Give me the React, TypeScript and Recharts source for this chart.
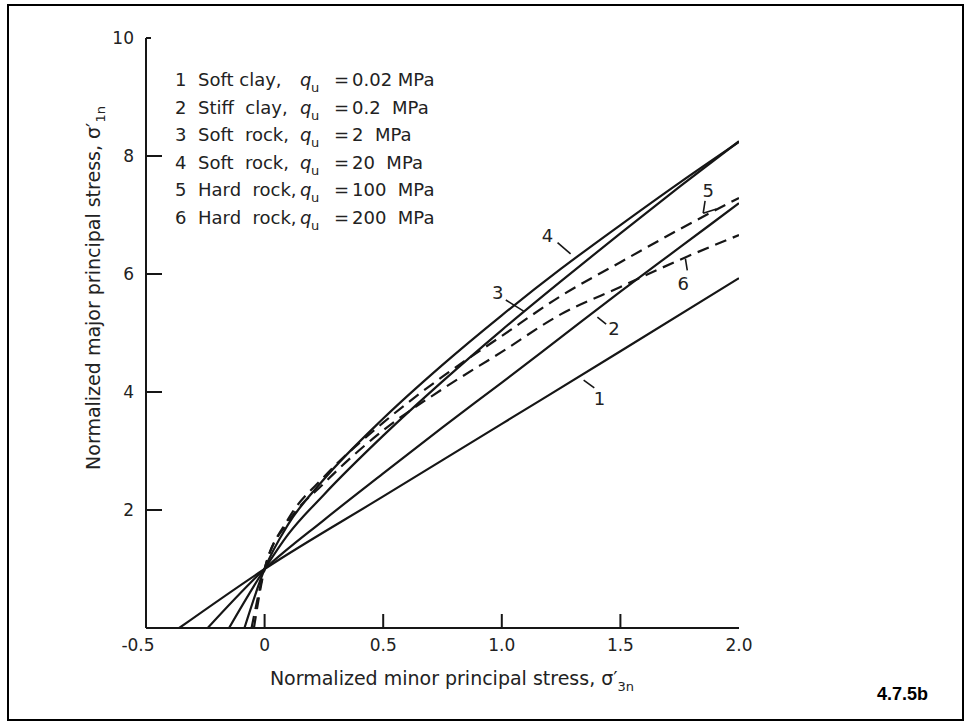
import React from 'react';
import { LineChart, Line, XAxis, YAxis, ReferenceLine, ReferenceDot } from 'recharts';

// ---------- data ----------
const xTicks = [-0.5, 0, 0.5, 1.0, 1.5, 2.0];
const xTickLabels = ['-0.5', '0', '0.5', '1.0', '1.5', '2.0'];
const yTicks = [0, 2, 4, 6, 8, 10];
const yTickLabels = ['', '2', '4', '6', '8', '10'];

const curve1X = [-0.36, 0, 0.5, 1.0, 1.5, 2.0];
const curve1Y = [0, 1, 2.23, 3.46, 4.69, 5.93];
const curve2X = [-0.24, 0, 0.25, 0.5, 0.75, 1.0, 1.25, 1.5, 1.75, 2.0];
const curve2Y = [0, 1, 1.83, 2.62, 3.4, 4.16, 4.93, 5.7, 6.45, 7.2];
const curve3X = [-0.15, 0, 0.1, 0.25, 0.5, 0.75, 1.0, 1.25, 1.5, 1.75, 2.0];
const curve3Y = [0, 1, 1.59, 2.26, 3.26, 4.18, 5.05, 5.88, 6.69, 7.48, 8.25];
const curve4X = [-0.085, 0, 0.1, 0.25, 0.5, 0.75, 1.0, 1.25, 1.5, 1.75, 2.0];
const curve4Y = [0, 1, 1.76, 2.52, 3.55, 4.46, 5.3, 6.09, 6.83, 7.55, 8.24];
const curve5X = [-0.055, 0, 0.1, 0.25, 0.5, 0.75, 1.0, 1.25, 1.5, 1.75, 2.0];
const curve5Y = [0, 1, 1.85, 2.56, 3.48, 4.26, 4.95, 5.63, 6.2, 6.76, 7.29];
const curve6X = [-0.045, 0, 0.1, 0.25, 0.5, 0.75, 1.0, 1.25, 1.5, 1.75, 2.0];
const curve6Y = [0, 1, 1.8, 2.45, 3.35, 4.05, 4.68, 5.32, 5.78, 6.24, 6.66];

const legendNums = ['1', '2', '3', '4', '5', '6'];
const legendNames = ['Soft clay,', 'Stiff  clay,', 'Soft  rock,', 'Soft  rock,', 'Hard  rock,', 'Hard  rock,'];
const legendValues = ['0.02 MPa', '0.2  MPa', '2  MPa', '20  MPa', '100  MPa', '200  MPa'];

// curve-number annotations (data coordinates)
const curveLabels = [
  { text: '1', x: 1.412, y: 3.9 },
  { text: '2', x: 1.473, y: 5.08 },
  { text: '3', x: 0.983, y: 5.69 },
  { text: '4', x: 1.193, y: 6.66 },
  { text: '5', x: 1.87, y: 7.42 },
  { text: '6', x: 1.765, y: 5.84 },
];
const pointerSegments = [
  [[1.345, 4.2], [1.39, 4.07]],
  [[1.403, 5.27], [1.44, 5.15]],
  [[1.017, 5.56], [1.092, 5.37]],
  [[1.235, 6.53], [1.29, 6.34]],
  [[1.857, 7.24], [1.849, 7.03]],
  [[1.849, 7.03], [1.905, 7.1]],
  [[1.782, 6.06], [1.774, 6.26]],
];

const pts = (xs: number[], ys: number[]) => xs.map((x, i) => ({ x, y: ys[i] }));
const series = [
  { name: 'c1', data: pts(curve1X, curve1Y), dash: undefined },
  { name: 'c2', data: pts(curve2X, curve2Y), dash: undefined },
  { name: 'c3', data: pts(curve3X, curve3Y), dash: undefined },
  { name: 'c4', data: pts(curve4X, curve4Y), dash: undefined },
  { name: 'c5', data: pts(curve5X, curve5Y), dash: '12 7' },
  { name: 'c6', data: pts(curve6X, curve6Y), dash: '12 7' },
];

const INK = '#161616';
const FONT = '"DejaVu Sans", sans-serif';

const YTick = (props: any) => {
  const { x, y, payload } = props;
  const i = yTicks.indexOf(payload.value);
  const len = payload.value === 10 ? 5 : payload.value === 0 ? 0 : 16;
  return (
    <g>
      {len > 0 && <line x1={x} x2={x + len} y1={y} y2={y} stroke={INK} strokeWidth={2} />}
      <text x={x - 12} y={y + 6} textAnchor="end" fontFamily={FONT} fontSize={17} fill="#222">
        {yTickLabels[i]}
      </text>
    </g>
  );
};

const XTick = (props: any) => {
  const { x, y, payload } = props;
  const i = xTicks.indexOf(payload.value);
  const hasTick = payload.value > -0.5 && payload.value < 2.0;
  const dx = payload.value === -0.5 ? -8 : 0;
  return (
    <g>
      {hasTick && <line x1={x} x2={x} y1={y} y2={y - 14} stroke={INK} strokeWidth={2} />}
      <text x={x + dx} y={y + 23} textAnchor="middle" fontFamily={FONT} fontSize={17} fill="#222">
        {xTickLabels[i]}
      </text>
    </g>
  );
};

export default function App() {
  return (
    <div style={{ position: 'absolute', left: 0, top: 0, width: 967, height: 723, background: '#fff' }}>
      <div
        style={{
          position: 'absolute',
          left: 7,
          top: 4,
          width: 957,
          height: 717,
          border: '2px solid #000',
          boxSizing: 'border-box',
        }}
      />
      <div style={{ position: 'absolute', left: 0, top: 0 }}>
        <LineChart width={967} height={723} margin={{ top: 38, right: 228, bottom: 65, left: 106 }}>
          <XAxis
            type="number"
            dataKey="x"
            domain={[-0.5, 2]}
            ticks={xTicks}
            allowDataOverflow
            height={30}
            tickSize={0}
            tickMargin={0}
            tickLine={false}
            axisLine={{ stroke: INK, strokeWidth: 2 }}
            tick={<XTick />}
            interval={0}
          />
          <YAxis
            type="number"
            dataKey="y"
            domain={[0, 10]}
            ticks={yTicks}
            allowDataOverflow
            width={40}
            tickSize={0}
            tickMargin={0}
            tickLine={false}
            axisLine={{ stroke: INK, strokeWidth: 2 }}
            tick={<YTick />}
            interval={0}
          />
          {series.map((s) => (
            <Line
              key={s.name}
              data={s.data}
              dataKey="y"
              type="monotone"
              stroke={INK}
              strokeWidth={2.2}
              strokeDasharray={s.dash}
              dot={false}
              activeDot={false}
              isAnimationActive={false}
            />
          ))}
          {pointerSegments.map((seg, i) => (
            <ReferenceLine
              key={'p' + i}
              segment={[
                { x: seg[0][0], y: seg[0][1] },
                { x: seg[1][0], y: seg[1][1] },
              ]}
              stroke={INK}
              strokeWidth={1.6}
            />
          ))}
          {curveLabels.map((c) => (
            <ReferenceDot
              key={'l' + c.text}
              x={c.x}
              y={c.y}
              r={0}
              shape={(p: any) => (
                <text
                  x={p.cx}
                  y={p.cy + 7}
                  textAnchor="middle"
                  fontFamily={FONT}
                  fontSize={18}
                  fill="#222"
                >
                  {c.text}
                </text>
              )}
            />
          ))}
        </LineChart>
      </div>
      <svg
        width={967}
        height={723}
        style={{ position: 'absolute', left: 0, top: 0, pointerEvents: 'none' }}
      >
        {legendNums.map((n, i) => {
          const by = 86 + i * 27.5;
          return (
            <g key={n} fontFamily={FONT} fontSize={18} fill="#222">
              <text x={175} y={by}>{n}</text>
              <text x={198} y={by} style={{ whiteSpace: 'pre' }}>{legendNames[i]}</text>
              <text x={300} y={by} fontStyle="italic">q</text>
              <text x={311} y={by + 6} fontSize={13}>u</text>
              <text x={334} y={by}>=</text>
              <text x={352} y={by} style={{ whiteSpace: 'pre' }}>{legendValues[i]}</text>
            </g>
          );
        })}
        <text
          transform="translate(100,288) rotate(-90)"
          textAnchor="middle"
          fontFamily={FONT}
          fontSize={19}
          fill="#222"
        >
          Normalized major principal stress, σ′
          <tspan fontSize={13} dy={5}>1n</tspan>
        </text>
        <text x={452} y={685} textAnchor="middle" fontFamily={FONT} fontSize={19} fill="#222">
          Normalized minor principal stress, σ′
          <tspan fontSize={13} dy={6}>3n</tspan>
        </text>
        <text x={877} y={700} fontFamily='"Liberation Sans", Arial, sans-serif' fontWeight="bold" fontSize={18} fill="#000">
          4.7.5b
        </text>
      </svg>
    </div>
  );
}
